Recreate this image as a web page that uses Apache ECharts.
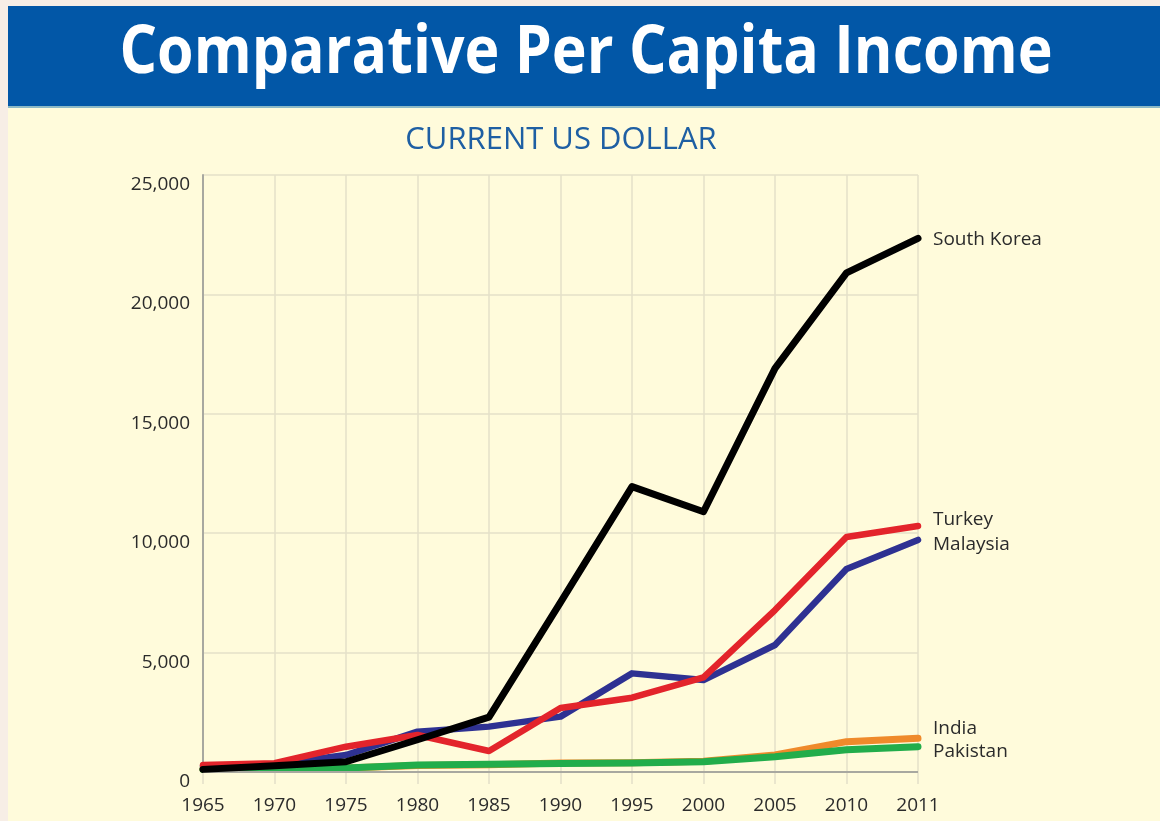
<!DOCTYPE html>
<html>
<head>
<meta charset="utf-8">
<script src="https://cdn.jsdelivr.net/npm/echarts@6/dist/echarts.min.js"></script>
<style>
html,body{margin:0;padding:0;background:#f7eee6;}
#chart{width:1160px;height:821px;}
</style>
</head>
<body>
<div id="chart"></div>
<script>
const years = ['1965','1970','1975','1980','1985','1990','1995','2000','2005','2010','2011'];
const southKorea = [110, 260, 430, 1350, 2300, 7100, 11950, 10900, 16900, 20900, 22350];
const turkey     = [290, 370, 1060, 1550, 880, 2680, 3110, 3960, 6780, 9840, 10300];
const malaysia   = [240, 320, 710, 1690, 1900, 2320, 4130, 3850, 5320, 8500, 9720];
const india      = [120, 120, 170, 270, 300, 380, 390, 450, 710, 1270, 1410];
const pakistan   = [110, 150, 170, 290, 320, 360, 380, 430, 640, 930, 1060];
const yTicks = [0, 5000, 10000, 15000, 20000, 25000];
const titleText = 'Comparative Per Capita Income';
const subtitleText = 'CURRENT US DOLLAR';

const chart = echarts.init(document.getElementById('chart'), null, {renderer: 'canvas'});

function line(name, data, color, width, z, offset) {
  return {
    name: name, type: 'line', data: data, z: z,
    symbol: 'none', smooth: false,
    lineStyle: {color: color, width: width, cap: 'round', join: 'round'},
    endLabel: {
      show: true, formatter: name, distance: 15, offset: offset,
      color: '#2b2b2b', fontSize: 19, fontFamily: 'Open Sans'
    },
    emphasis: {disabled: true}
  };
}

chart.setOption({
  backgroundColor: '#f7eee6',
  animation: false,
  graphic: [
    {type: 'rect', shape: {x: 8, y: 106, width: 1152, height: 715}, style: {fill: '#fffbdb'}, z: -10},
    {type: 'rect', shape: {x: 8, y: 6, width: 1152, height: 100}, style: {fill: '#0257a7'}, z: -9},
    {type: 'rect', shape: {x: 8, y: 106, width: 1152, height: 2}, style: {fill: '#8cb9c6'}, z: -9},
    {type: 'text', x: 586, y: 54, scaleX: 0.895,
     style: {text: titleText, fill: '#ffffff', font: 'bold 66px "Open Sans"', align: 'center', verticalAlign: 'middle'}, z: 10},
    {type: 'text', x: 561, y: 140,
     style: {text: subtitleText, fill: '#1e5fa3', font: '31px "Open Sans"', align: 'center', verticalAlign: 'middle'}, z: 10}
  ],
  grid: {left: 203, right: 242, top: 175, bottom: 49, containLabel: false},
  xAxis: {
    type: 'category', data: years, boundaryGap: false,
    axisLine: {show: false},
    axisTick: {show: true, inside: false, length: 12, lineStyle: {color: '#e4e0c9', width: 1.5}},
    axisLabel: {color: '#2b2b2b', fontSize: 19, fontFamily: 'Open Sans', margin: 24},
    splitLine: {show: true, lineStyle: {color: '#e4e0c9', width: 1.5}}
  },
  yAxis: {
    type: 'value', min: 0, max: 25000, interval: 5000,
    axisLine: {show: true, lineStyle: {color: '#a8a8a0', width: 2}},
    axisTick: {show: false},
    axisLabel: {color: '#2b2b2b', fontSize: 19, fontFamily: 'Open Sans', margin: 13, verticalAlign: 'top',
      formatter: function (v) { return yTicks.indexOf(v) >= 0 ? v.toLocaleString('en-US') : ''; }},
    splitLine: {show: true, lineStyle: {color: '#e4e0c9', width: 1.5}}
  },
  series: [
    {
      type: 'line', data: [], silent: true,
      markLine: {
        silent: true, symbol: 'none', label: {show: false},
        lineStyle: {color: '#a8a8a0', width: 2, type: 'solid'},
        data: [{yAxis: 0}]
      }
    },
    line('India', india, '#ef8a2b', 7, 3, [0, -10]),
    line('Pakistan', pakistan, '#22ad4b', 7, 4, [0, 5]),
    line('Malaysia', malaysia, '#2e3192', 6.5, 5, [0, 5]),
    line('Turkey', turkey, '#e3242b', 6.5, 6, [0, -6]),
    line('South Korea', southKorea, '#000000', 7, 7, [0, 1])
  ]
});
</script>
</body>
</html>
